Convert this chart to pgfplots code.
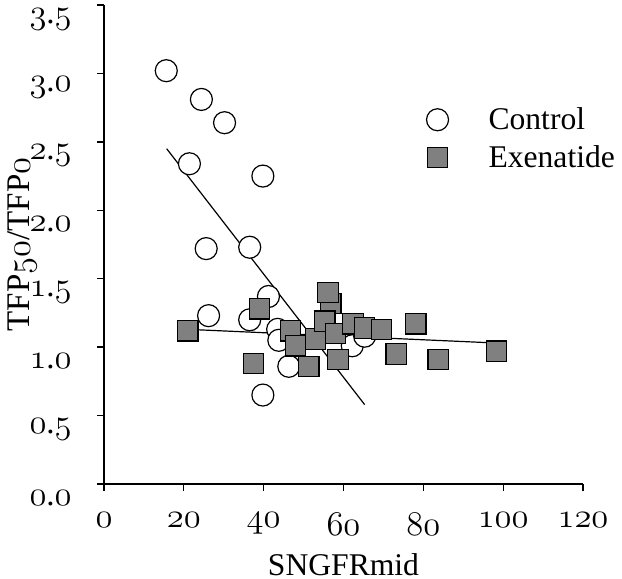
\documentclass[border=0pt]{standalone}
\usepackage{fontspec}
\setmainfont{Liberation Serif}
\usepackage{pgfplots}
\pgfplotsset{compat=1.18}
\newcommand\osn[1]{{\usefont{OML}{lmm}{m}{it}#1}}
\definecolor{sqgray}{RGB}{128,128,128}
\pgfplotstableread{
x y
15.6 3.02
24.4 2.81
30.2 2.64
21.4 2.34
39.8 2.25
25.6 1.72
36.5 1.73
26.2 1.23
41.2 1.37
36.5 1.20
43.5 1.13
43.8 1.05
46.3 0.86
39.8 0.65
62.2 1.01
65.3 1.08
}\controldata
\pgfplotstableread{
x y
21.0 1.12
39.0 1.28
37.5 0.88
46.7 1.12
48.0 1.01
51.3 0.86
53.0 1.06
56.8 1.32
56.1 1.40
55.3 1.19
58.0 1.10
58.6 0.91
62.4 1.17
65.3 1.14
69.5 1.13
78.1 1.17
73.2 0.95
83.7 0.91
98.3 0.97
}\exenatidedata
\begin{document}
\begin{tikzpicture}
\useasboundingbox (0,0) rectangle (311pt,289.5pt);
\begin{axis}[
  at={(52pt,47.5pt)}, anchor=south west,
  width=239.5pt, height=239.5pt, scale only axis,
  xmin=0, xmax=120, ymin=0, ymax=3.5,
  axis x line=bottom, axis y line=left,
  axis line style={-, line width=0.65pt, black},
  tick align=outside, major tick length=3.5pt,
  tick style={line width=0.65pt, black},
  xtick={0,20,40,60,80,100,120},
  xticklabels={\osn{0},\osn{20},\osn{40},\osn{60},\osn{80},\osn{100},\osn{120}},
  ytick={0,0.5,1,1.5,2,2.5,3,3.5},
  yticklabels={\osn{0}.\osn{0},\osn{0}.\osn{5},\osn{1}.\osn{0},\osn{1}.\osn{5},\osn{2}.\osn{0},\osn{2}.\osn{5},\osn{3}.\osn{0},\osn{3}.\osn{5}},
  xticklabel style={font=\fontsize{16.5}{18}\selectfont, yshift=-7.5pt},
  yticklabel style={font=\fontsize{16.5}{18}\selectfont, inner sep=1pt, xshift=-11.5pt, yshift=-7pt},
  xlabel={SNGFRmid},
  ylabel={TFP\osn{50}/TFP\osn{0}},
  label style={font=\fontsize{15.8}{18}\selectfont},
  xlabel style={at={(axis description cs:0.5,0)}, anchor=base, yshift=-45.5pt},
  ylabel style={at={(axis description cs:0,0.5)}, anchor=base, yshift=37pt, font=\fontsize{16.5}{18}\selectfont},
  legend image code/.code={\draw[#1] plot coordinates {(0pt,0pt)};},
  legend style={draw=none, fill=none, at={(axis description cs:0.66,0.804)}, anchor=north west,
    font=\fontsize{15.8}{18}\selectfont, legend cell align=left, row sep=2.5pt,
    /tikz/every odd column/.append style={column sep=18pt}},
  clip=false,
]
\addplot[only marks, mark=*, mark size=5.5pt, mark options={fill=white, draw=black, line width=0.6pt}] table[x=x,y=y] {\controldata};
\addlegendentry{Control}
\addplot[only marks, mark=square*, mark size=5.1pt, mark options={fill=sqgray, draw=black, line width=0.6pt}] table[x=x,y=y] {\exenatidedata};
\addlegendentry{Exenatide}
\addplot[forget plot, black, line width=0.6pt] coordinates {(15.7,2.45) (65.3,0.58)};
\addplot[forget plot, black, line width=0.6pt] coordinates {(21.0,1.13) (98.4,1.03)};
\end{axis}
\end{tikzpicture}
\end{document}
